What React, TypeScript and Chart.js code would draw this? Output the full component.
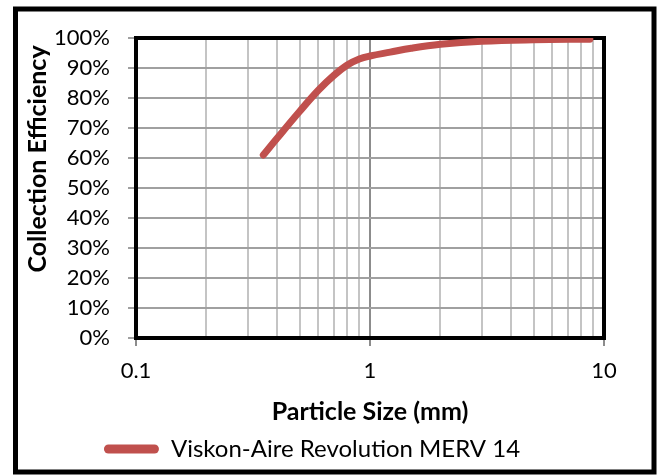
import React, { useEffect, useRef } from "react";
import { Chart, registerables } from "chart.js";

Chart.register(...registerables);

// ---- data ----
const particleSizes = [0.35, 0.4, 0.5, 0.6, 0.7, 0.8, 0.9, 1.0, 1.22, 1.5, 2, 3, 5, 8.7];
const efficiencies = [61, 66.5, 75.5, 82.5, 87.5, 91, 93, 94, 95.3, 96.6, 97.9, 98.9, 99.4, 99.6];
const seriesName = "Viskon-Aire Revolution MERV 14";
const xGridValues = [0.1, 0.2, 0.3, 0.4, 0.5, 0.6, 0.7, 0.8, 0.9, 1, 2, 3, 4, 5, 6, 7, 8, 9, 10];
const xLabelValues = [0.1, 1, 10];
const yTickValues = [0, 10, 20, 30, 40, 50, 60, 70, 80, 90, 100];
const xTitle = "Particle Size (mm)";
const yTitle = "Collection Efficiency";

const FONT = "Lato";
const LINE_COLOR = "#c0504d";

const framePlugin = {
  id: "frameBorders",
  beforeDatasetsDraw(chart: any) {
    const { ctx, chartArea: a, scales } = chart;
    ctx.save();
    ctx.strokeStyle = "#8c8c8c";
    ctx.lineWidth = 2;
    xLabelValues.forEach((v) => {
      const px = scales.x.getPixelForValue(v);
      ctx.beginPath();
      ctx.moveTo(px, a.bottom);
      ctx.lineTo(px, a.bottom + 8);
      ctx.stroke();
    });
    ctx.strokeStyle = "#000";
    ctx.lineWidth = 4;
    ctx.strokeRect(a.left, a.top, a.right - a.left, a.bottom - a.top);
    ctx.restore();
  },
  afterDraw(chart: any) {
    const { ctx } = chart;
    ctx.save();
    // y-axis title (Excel places it slightly above the plot centre)
    ctx.translate(38, 159);
    ctx.rotate(-Math.PI / 2);
    ctx.fillStyle = "#000";
    ctx.font = `bold 25px ${FONT}`;
    ctx.textAlign = "center";
    ctx.textBaseline = "middle";
    ctx.fillText(yTitle, 0, 0);
    ctx.restore();
    ctx.save();
    ctx.strokeStyle = "#000";
    ctx.lineWidth = 5;
    ctx.strokeRect(15.5, 9, 638.5, 463);
    ctx.restore();
  },
};

export default function App() {
  const canvasRef = useRef<HTMLCanvasElement | null>(null);

  useEffect(() => {
    if (!canvasRef.current) return;
    Chart.defaults.font.family = FONT;
    const chart = new Chart(canvasRef.current, {
      type: "line",
      data: {
        datasets: [
          {
            label: seriesName,
            data: particleSizes.map((x, i) => ({ x, y: efficiencies[i] })),
            borderColor: LINE_COLOR,
            backgroundColor: LINE_COLOR,
            borderWidth: 7,
            pointRadius: 0,
            tension: 0.4,
            borderCapStyle: "round",
            borderJoinStyle: "round",
            fill: false,
          },
        ],
      },
      options: {
        animation: false,
        responsive: true,
        maintainAspectRatio: false,
        layout: { padding: { left: 20, right: 55, top: 38, bottom: 4 } },
        plugins: {
          tooltip: { enabled: false },
          legend: {
            position: "bottom",
            labels: {
              font: { family: FONT, size: 24 },
              color: "#000",
              boxWidth: 55,
              boxHeight: 9,
              useBorderRadius: true,
              borderRadius: 4.5,
              padding: 10,
              generateLabels: () => [
                {
                  text: seriesName,
                  fillStyle: LINE_COLOR,
                  strokeStyle: LINE_COLOR,
                  lineWidth: 0,
                  hidden: false,
                  datasetIndex: 0,
                  borderRadius: 4.5,
                  fontColor: "#000",
                } as any,
              ],
            },
          },
        },
        scales: {
          x: {
            type: "logarithmic",
            min: 0.1,
            max: 10,
            afterBuildTicks: (scale: any) => {
              scale.ticks = xGridValues.map((v) => ({ value: v }));
            },
            afterFit: (scale: any) => {
              scale.height = 89;
            },
            ticks: {
              autoSkip: false,
              maxRotation: 0,
              padding: 20,
              color: "#000",
              font: { family: FONT, size: 22 },
              callback: (v: any) => (xLabelValues.includes(Number(v)) ? String(v) : ""),
            },
            grid: {
              color: (ctx: any) => (ctx.tick && ctx.tick.value === 1 ? "#8c8c8c" : "#c4c4c4"),
              lineWidth: 2,
              drawTicks: false,
            },
            border: { display: false },
            title: {
              display: true,
              text: xTitle,
              color: "#000",
              font: { family: FONT, size: 25, weight: "bold" },
              padding: { top: 0, bottom: 0 },
            },
          } as any,
          y: {
            type: "linear",
            min: 0,
            max: 100,
            afterBuildTicks: (scale: any) => {
              scale.ticks = yTickValues.map((v) => ({ value: v }));
            },
            afterFit: (scale: any) => {
              scale.width = 116;
            },
            ticks: {
              padding: 18,
              color: "#000",
              font: { family: FONT, size: 22 },
              callback: (v: any) => `${v}%`,
            },
            grid: {
              color: "#a0a0a0",
              lineWidth: 2,
              tickLength: 8,
              tickColor: "#a0a0a0",
            },
            border: { display: false },
            title: { display: false },
          } as any,
        },
      },
      plugins: [framePlugin],
    });
    return () => chart.destroy();
  }, []);

  return (
    <div style={{ position: "absolute", left: 0, top: 0, width: 659, height: 475 }}>
      <canvas ref={canvasRef} />
    </div>
  );
}
